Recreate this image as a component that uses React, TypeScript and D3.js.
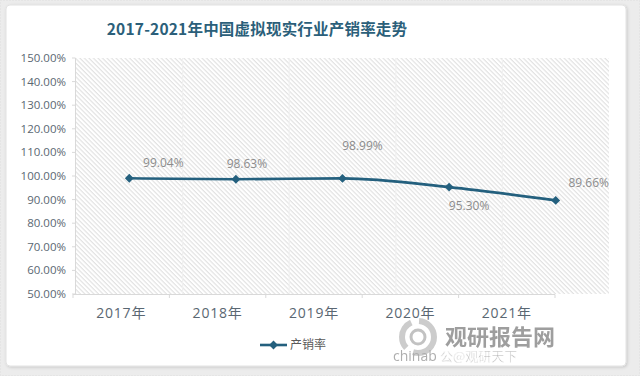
import React from "react";
import * as d3 from "d3";

const categories = ["2017年", "2018年", "2019年", "2020年", "2021年"];
const values = [0.9904, 0.9863, 0.9899, 0.953, 0.8966];
const valueLabels = ["99.04%", "98.63%", "98.99%", "95.30%", "89.66%"];
const yTicks = [0.5, 0.6, 0.7, 0.8, 0.9, 1.0, 1.1, 1.2, 1.3, 1.4, 1.5];
const seriesName = "产销率";
const title = "2017-2021年中国虚拟现实行业产销率走势";

const labelOffsets: [number, number][] = [
  [34, -15],
  [11, -15],
  [20, -33],
  [20, 19],
  [33, -18],
];

const W = 640;
const H = 376;
const LINE = "#24607e";

export default function App() {
  const plotX = d3.scaleBand<string>().domain(categories).range([76, 609]);
  const axisX = d3.scaleBand<string>().domain(categories).range([73, 555]);
  const y = d3.scaleLinear().domain([0.5, 1.5]).range([294, 58]);

  const pts: [number, number][] = values.map((v, i) => [
    plotX(categories[i])! + plotX.bandwidth() / 2,
    y(v),
  ]);
  const line = d3.line<[number, number]>().curve(d3.curveMonotoneX)(pts) || "";
  const diamond = d3.symbol().type(d3.symbolDiamond2).size(50)() || "";
  const fmt = d3.format(".2%");

  const axisBounds = categories.map((c) => axisX(c)!).concat([555]);
  const plotBounds = categories.map((c) => plotX(c)!).slice(1);

  return (
    <svg
      width={W}
      height={H}
      style={{ position: "absolute", left: 0, top: 0, display: "block" }}
      fontFamily="'Open Sans', 'Noto Sans CJK SC', sans-serif"
    >
      <defs>
        <pattern id="hatch" width="3.2" height="3.2" patternUnits="userSpaceOnUse" patternTransform="rotate(45)">
          <rect width="3.2" height="3.2" fill="#ffffff" />
          <line x1="0" y1="0.6" x2="3.2" y2="0.6" stroke="#e0e0e0" strokeWidth="1.1" />
        </pattern>
        <filter id="sh" x="-5%" y="-5%" width="110%" height="110%">
          <feDropShadow dx="1" dy="1" stdDeviation="1.5" floodColor="#000" floodOpacity="0.15" />
        </filter>
      </defs>
      <rect x={0} y={0} width={W} height={H} fill="#ececec" />
      <rect x={0.5} y={0.5} width={W - 1} height={H - 1} fill="none" stroke="#dedede" strokeDasharray="1 2" />
      <rect x={6} y={5} width={620} height={361} rx={4} fill="#ffffff" stroke="#e2e2e2" filter="url(#sh)" />

      <text x={257} y={35} textAnchor="middle" fontSize={15.5} fontWeight="bold" fill="#2b5f7a"
        fontFamily="'Noto Sans CJK SC', sans-serif" letterSpacing={0.2}>
        {title}
      </text>

      {/* plot area */}
      <rect x={76} y={58} width={533} height={236} fill="url(#hatch)" />
      {plotBounds.map((b, i) => (
        <line key={i} x1={b} x2={b} y1={58} y2={294} stroke="#f0f0f0" strokeWidth={1.2} />
      ))}

      {/* y axis */}
      <line x1={75.5} x2={75.5} y1={58} y2={294} stroke="#d9d9d9" />
      {yTicks.map((t) => (
        <g key={t}>
          <line x1={72} x2={75.5} y1={y(t)} y2={y(t)} stroke="#d9d9d9" />
          <text x={66} y={y(t)} dy="0.35em" textAnchor="end" fontSize={11.5} fill="#5a6772">
            {fmt(t)}
          </text>
        </g>
      ))}

      {/* x axis */}
      <line x1={73} x2={555} y1={294.5} y2={294.5} stroke="#d9d9d9" />
      {axisBounds.map((b, i) => (
        <line key={i} x1={b} x2={b} y1={294.5} y2={298} stroke="#d9d9d9" />
      ))}
      {categories.map((c) => (
        <text key={c} x={axisX(c)! + axisX.bandwidth() / 2} y={318} textAnchor="middle" fontSize={14}
          fill="#5a6772" letterSpacing={0.8}>
          {c}
        </text>
      ))}

      {/* series */}
      <path d={line} fill="none" stroke={LINE} strokeWidth={2.6} />
      {pts.map((p, i) => (
        <path key={i} d={diamond} transform={`translate(${p[0]},${p[1]})`} fill={LINE} />
      ))}
      {pts.map((p, i) => (
        <text key={i} x={p[0] + labelOffsets[i][0]} y={p[1] + labelOffsets[i][1]} dy="0.35em"
          textAnchor="middle" fontSize={12} fill="#8c8c8c">
          {valueLabels[i]}
        </text>
      ))}

      {/* legend */}
      <line x1={260} x2={287} y1={345} y2={345} stroke={LINE} strokeWidth={2.6} />
      <path d={diamond} transform="translate(273.5,345)" fill={LINE} />
      <text x={290} y={345} dy="0.35em" fontSize={12} fill="#595959" fontFamily="'Noto Sans CJK SC', sans-serif">
        {seriesName}
      </text>

      {/* watermark */}
      <g opacity={0.85}>
        <circle cx={418} cy={337} r={16} fill="none" stroke="#c4c4c4" strokeWidth={6}
          strokeDasharray="30 8" />
        <circle cx={418} cy={337} r={7} fill="none" stroke="#b8b8b8" strokeWidth={3} />
        <text x={445} y={345} fontSize={22} fontWeight="bold" fill="#8e8e8e"
          fontFamily="'Noto Sans CJK SC', sans-serif">
          观研报告网
        </text>
        <text x={393} y={361} fontSize={14} fill="#a0a0a0">chinab</text>
        <text x={440} y={361} fontSize={13} fill="#9a9a9a" stroke="#ffffff" strokeWidth={0.6}
          fontFamily="'Noto Sans CJK SC', sans-serif">
          公@观研天下
        </text>
      </g>
    </svg>
  );
}
